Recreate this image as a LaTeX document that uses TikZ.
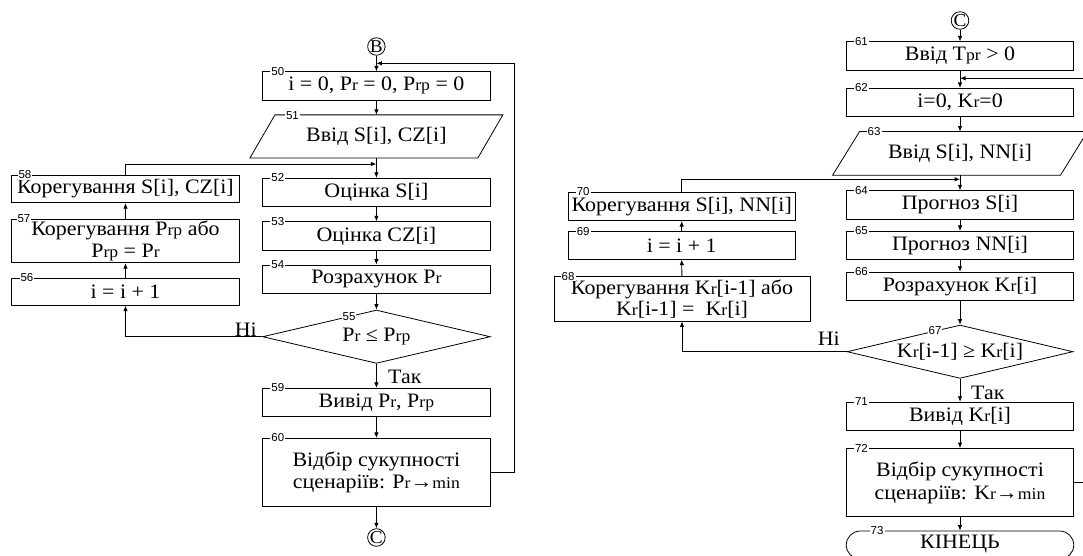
\documentclass[tikz,border=0pt]{standalone}
\usepackage{fontspec}
\setmainfont[FakeStretch=1.07]{Liberation Serif}
\newfontfamily\numfont{Liberation Sans}
\usetikzlibrary{arrows.meta,shapes.geometric}
\newcommand{\sm}[1]{{\fontsize{16.5}{16.5}\selectfont #1}}
\tikzset{
  base/.style={font=\fontsize{20.5}{21.5}\selectfont, inner sep=0pt, align=center},
  blk/.style={base, draw, line width=0.8pt, minimum width=227.5pt, minimum height=28.3pt},
  ghost/.style={base, minimum width=227.5pt},
  num/.style={font=\numfont\fontsize{11.5}{11.5}\selectfont, fill=white, inner sep=1pt},
  conn/.style={draw, circle, line width=0.8pt, inner sep=0pt, minimum size=17pt, font=\fontsize{18}{18}\selectfont},
  lnk/.style={line width=0.8pt},
  arr/.style={lnk, -{Latex[length=5.5pt,width=4.5pt]}},
  lbl/.style={base}
}
\begin{document}
\begin{tikzpicture}[x=1pt,y=-1pt]
\useasboundingbox (0,0) rectangle (1083,555);
\clip (0,0) rectangle (1083,555);
\fill[white] (0,0) rectangle (1083,555);

% ---------- left main column ----------
\node[conn] (cB) at (376.4,46.5) {B};
\node[blk] (b50) at (376.4,85.9) {i = 0, P\sm{r} = 0, P\sm{rp} = 0};
\node[ghost, minimum height=42.7pt] (n51) at (376.4,136.4) {Ввід S[i], CZ[i]};
\draw[lnk] ([xshift=12.5pt]n51.north west) -- ([xshift=12.5pt]n51.north east)
  -- ([xshift=-12.5pt]n51.south east) -- ([xshift=-12.5pt]n51.south west) -- cycle;
\node[blk] (b52) at (376.4,192.5) {Оцінка S[i]};
\node[blk] (b53) at (376.4,235.9) {Оцінка CZ[i]};
\node[blk] (b54) at (376.4,279.2) {Розрахунок P\sm{r}};
\node[base, draw, diamond, line width=0.8pt, aspect=4.27, minimum width=227.6pt, minimum height=53.3pt] (d55) at (376.4,336.7) {P\sm{r} ≤ P\sm{rp}};
\node[blk] (b59) at (376.4,402.5) {Вивід P\sm{r}, P\sm{rp}};
\node[blk, minimum height=67.7pt, font=\fontsize{20.5}{22.7}\selectfont] (b60) at (376.4,472.2) {Відбір сукупності\\сценаріїв: P\sm{r}→\sm{min}};
\node[conn] (cC1) at (376.4,537.5) {C};

% ---------- left side column ----------
\node[blk, minimum height=27.7pt] (b58) at (125.5,188.9) {Корегування S[i], CZ[i]};
\node[blk, minimum height=43.7pt] (b57) at (125.5,240.9) {Корегування P\sm{rp} або\\P\sm{rp} = P\sm{r}};
\node[blk, minimum height=27pt] (b56) at (125.5,291.7) {i = i + 1};

% ---------- right main column ----------
\node[conn] (cC2) at (960,20.5) {C};
\node[blk] (b61) at (960,55.9) {Ввід T\sm{pr} > 0};
\node[blk] (b62) at (960,102.5) {i=0, K\sm{r}=0};
\node[ghost, minimum height=43.3pt] (n63) at (960,153.4) {Ввід S[i], NN[i]};
\draw[lnk] ([xshift=13.5pt]n63.north west) -- ([xshift=13.5pt]n63.north east)
  -- ([xshift=-13.5pt]n63.south east) -- ([xshift=-13.5pt]n63.south west) -- cycle;
\node[blk] (b64) at (960,204.9) {Прогноз S[i]};
\node[blk] (b65) at (960,245.5) {Прогноз NN[i]};
\node[blk] (b66) at (960,286.3) {Розрахунок K\sm{r}[i]};
\node[base, draw, diamond, line width=0.8pt, aspect=4.27, minimum width=226pt, minimum height=53.3pt] (d67) at (960,351.7) {K\sm{r}[i-1] ≥ K\sm{r}[i]};
\node[blk] (b71) at (960,416.3) {Вивід K\sm{r}[i]};
\node[blk, minimum height=68pt, font=\fontsize{20.5}{22.7}\selectfont] (b72) at (960,482.5) {Відбір сукупності\\сценаріїв: K\sm{r}→\sm{min}};
\node[blk, rounded corners=14pt, minimum height=28pt, text depth=7pt] (b73) at (960,545) {КІНЕЦЬ};

% ---------- right side column ----------
\node[blk] (b70) at (681.7,206.5) {Корегування S[i], NN[i]};
\node[blk, minimum height=27.6pt] (b69) at (681.7,245.5) {i = i + 1};
\node[blk, minimum width=256.2pt, minimum height=44.3pt] (b68) at (682,298.9) {Корегування K\sm{r}[i-1] або\\K\sm{r}[i-1] =\ \ K\sm{r}[i]};

% ---------- number labels ----------
\node[num, anchor=west] (l50) at ([xshift=8pt]b50.north west) {50};
\node[num, anchor=west] (l51) at (284.8,115.2) {51};
\node[num, anchor=west] (l52) at ([xshift=8pt]b52.north west) {52};
\node[num, anchor=west] (l53) at ([xshift=8pt]b53.north west) {53};
\node[num, anchor=west] (l54) at ([xshift=8pt]b54.north west) {54};
\node[num] (l55) at (349,316.3) {55};
\node[num, anchor=west] (l56) at ([xshift=8pt]b56.north west) {56};
\node[num, anchor=west] (l57) at ([xshift=5pt]b57.north west) {57};
\node[num, anchor=west] (l58) at ([xshift=6pt]b58.north west) {58};
\node[num, anchor=west] (l59) at ([xshift=8pt]b59.north west) {59};
\node[num, anchor=west] (l60) at ([xshift=8pt]b60.north west) {60};
\node[num, anchor=west] (l61) at ([xshift=8pt]b61.north west) {61};
\node[num, anchor=west] (l62) at ([xshift=8pt]b62.north west) {62};
\node[num, anchor=west] (l63) at (866.5,131.9) {63};
\node[num, anchor=west] (l64) at ([xshift=8pt]b64.north west) {64};
\node[num, anchor=west] (l65) at ([xshift=8pt]b65.north west) {65};
\node[num, anchor=west] (l66) at ([xshift=8pt]b66.north west) {66};
\node[num] (l67) at (935,330.7) {67};
\node[num, anchor=west] (l68) at ([xshift=7pt]b68.north west) {68};
\node[num, anchor=west] (l69) at ([xshift=8pt]b69.north west) {69};
\node[num, anchor=west] (l70) at ([xshift=8pt]b70.north west) {70};
\node[num, anchor=west] (l71) at ([xshift=8pt]b71.north west) {71};
\node[num, anchor=west] (l72) at ([xshift=8pt]b72.north west) {72};
\node[num, anchor=west] (l73) at (869.5,531) {73};

% ---------- yes / no labels ----------
\node[lbl, anchor=west] (tk1) at (388,376.7) {Так};
\node[lbl, anchor=east] (ni1) at (257,330) {Ні};
\node[lbl, anchor=west] (tk2) at (971,392.7) {Так};
\node[lbl, anchor=east] (ni2) at (840,338.3) {Ні};

% ---------- junction points ----------
\coordinate (j50) at (376.4,63.3);
\coordinate (m52) at (376.4,164);
\coordinate (j62) at (960,78.3);
\coordinate (m64) at (960,179.3);

% ---------- connectors, left ----------
\draw[arr] (cB) -- (b50);
\draw[arr] (b50) -- (n51);
\draw[arr] (n51) -- (b52);
\draw[arr] (b52) -- (b53);
\draw[arr] (b53) -- (b54);
\draw[arr] (b54) -- (d55);
\draw[arr] (d55.south) -- (b59);
\draw[arr] (b59) -- (b60);
\draw[arr] (b60) -- (cC1);
\draw[arr] (b60.east) -- ++(23.5,0) |- (j50);
\draw[arr] (d55.west) -| (b56.south);
\draw[arr] (b56) -- (b57);
\draw[arr] (b57) -- (b58);
\draw[arr] (b58.north) |- (m52);

% ---------- connectors, right ----------
\draw[arr] (cC2) -- (b61);
\draw[arr] (b61) -- (b62);
\draw[arr] (b62) -- (n63);
\draw[arr] (n63) -- (b64);
\draw[arr] (b64) -- (b65);
\draw[arr] (b65) -- (b66);
\draw[arr] (b66) -- (d67);
\draw[arr] (d67.south) -- (b71);
\draw[arr] (b71) -- (b72);
\draw[arr] (b72) -- (b73);
\draw[arr] (b72.east) -- ++(20,0) |- (j62);
\draw[arr] (d67.west) -| (b68.south);
\draw[arr] (b68) -- (b69);
\draw[arr] (b69) -- (b70);
\draw[arr] (b70.north) |- (m64);
\end{tikzpicture}
\end{document}
